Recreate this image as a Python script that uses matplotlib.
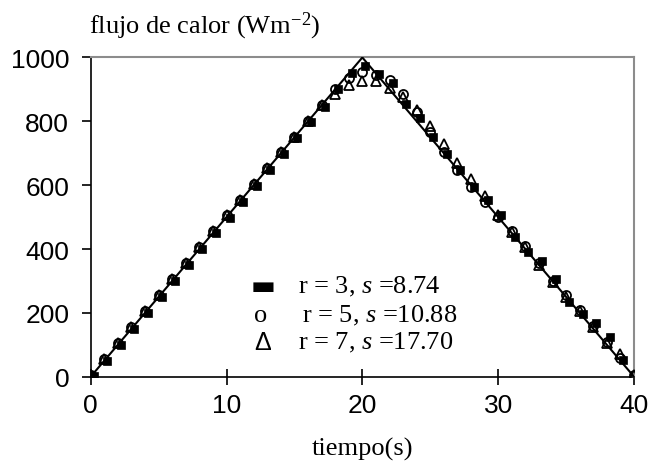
import numpy as np
import matplotlib
matplotlib.use('Agg')
import matplotlib.pyplot as plt
import matplotlib.transforms as mtransforms

plt.rcParams.update({
    'font.family': ['Liberation Sans', 'DejaVu Sans'],
    'mathtext.fontset': 'custom',
    'mathtext.rm': 'Liberation Serif',
    'mathtext.it': 'Liberation Serif:italic',
})

# time (s)
tiempo = np.arange(0, 41)

# heat flux estimates for three cases (W m^-2)
flux_r3 = [5, 52, 102, 152, 202, 252, 302, 352, 402, 452, 500, 550, 600, 650, 700,
           750, 800, 848, 904, 956, 975, 952, 922, 858, 813, 754, 701, 650, 598, 557,
           510, 442, 395, 367, 308, 238, 200, 170, 127, 55, 5]
flux_r5 = [5, 55, 105, 155, 205, 255, 305, 355, 405, 455, 505, 555, 605, 655, 705,
           752, 802, 852, 902, 935, 955, 945, 928, 886, 830, 765, 705, 649, 594, 547,
           500, 455, 409, 355, 300, 256, 210, 158, 108, 60, 5]
flux_r7 = [5, 55, 105, 155, 205, 255, 305, 355, 405, 455, 505, 555, 605, 655, 705,
           752, 802, 850, 886, 914, 926, 926, 904, 876, 837, 785, 730, 670, 618, 565,
           505, 452, 405, 350, 296, 250, 205, 155, 105, 71, 5]

# exact heat flux (triangle)
t_exact = [0, 20, 40]
q_exact = [0, 1000, 0]

labels = [r'r = 3, $\mathit{s}$ =8.74', r'r = 5, $\mathit{s}$ =10.88', r'r = 7, $\mathit{s}$ =17.70']

fig = plt.figure(figsize=(6.51, 4.77), dpi=100)
ax = fig.add_axes([0.1393, 0.2082, 0.8346, 0.6692])

# squares drawn slightly shifted like in the original
shift = mtransforms.ScaledTranslation(3 / 100, -1 / 100, fig.dpi_scale_trans)
ax.plot(tiempo, flux_r3, 's', color='black', ms=5.5, mew=0.5,
        transform=ax.transData + shift, zorder=2)
ax.plot(tiempo, flux_r5, 'o', mfc='none', mec='black', ms=6.5, mew=1.3, zorder=3)
ax.plot(tiempo, flux_r7, '^', mfc='none', mec='black', ms=7, mew=1.3, zorder=3)
ax.plot(t_exact, q_exact, '-', color='black', lw=1.5, zorder=4)

ax.set_xlim(0, 40)
ax.set_ylim(0, 1000)
ax.set_xticks([0, 10, 20, 30, 40])
ax.set_yticks([0, 200, 400, 600, 800, 1000])

for side in ['top', 'right']:
    ax.spines[side].set_color('#8c8c8c')
    ax.spines[side].set_linewidth(1.5)
for side in ['left', 'bottom']:
    ax.spines[side].set_color('black')
    ax.spines[side].set_linewidth(1.2)

ax.tick_params(axis='y', direction='out', length=6.5, width=1.2, pad=9, labelsize=19)
ax.tick_params(axis='x', direction='inout', length=11, width=1.2, pad=6, labelsize=19)

fig.text(0.136, 1 - 33 / 477, r'flujo de calor (Wm$^{\mathregular{-2}}$)', family='Liberation Serif',
         fontsize=19, ha='left', va='baseline')
fig.text(362 / 651, 1 - 456 / 477, 'tiempo(s)', family='Liberation Serif',
         fontsize=19, ha='center', va='baseline')

# hand-made legend like the original
ys = [287, 316, 343]
fig.text(263 / 651, 1 - ys[0] / 477, '\u25ac', family='DejaVu Sans', fontsize=19,
         ha='center', va='center')
fig.text(261 / 651, 1 - ys[1] / 477, 'o', family='Liberation Serif', fontsize=19,
         ha='center', va='center')
fig.text(263 / 651, 1 - ys[2] / 477, '\u0394', family='Liberation Sans', fontsize=18,
         ha='center', va='center')
for y, lab, x0 in zip(ys, labels, [298, 302, 298]):
    fig.text(x0 / 651, 1 - y / 477, lab, family='Liberation Serif', fontsize=19,
             ha='left', va='center')

fig.savefig('out.png', dpi=100)
